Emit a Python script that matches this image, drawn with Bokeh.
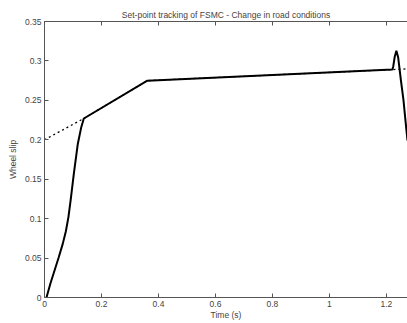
from bokeh.plotting import figure
from bokeh.models import LinearAxis, Range1d, FixedTicker
from bokeh.embed import file_html
from bokeh.resources import INLINE

# Data
t_slip = [0.007, 0.021, 0.050, 0.064, 0.075, 0.084, 0.092, 0.103, 0.117, 0.129, 0.138,
          0.361, 1.221, 1.224, 1.229, 1.235, 1.241, 1.251, 1.260, 1.267, 1.274]
slip = [0.000, 0.018, 0.051, 0.068, 0.084, 0.102, 0.124, 0.157, 0.195, 0.216, 0.227,
        0.275, 0.289, 0.293, 0.305, 0.313, 0.305, 0.275, 0.250, 0.224, 0.199]

t_ref = [0.0, 0.138, 0.361, 1.221, 1.274]
slip_ref = [0.200, 0.227, 0.275, 0.289, 0.290]

x_ticks = [0, 0.2, 0.4, 0.6, 0.8, 1.0, 1.2]
y_ticks = [0, 0.05, 0.1, 0.15, 0.2, 0.25, 0.3, 0.35]
x_labels = {0: "0", 0.2: "0.2", 0.4: "0.4", 0.6: "0.6", 0.8: "0.8", 1.0: "1", 1.2: "1.2"}
y_labels = {0: "0", 0.05: "0.05", 0.1: "0.1", 0.15: "0.15", 0.2: "0.2",
            0.25: "0.25", 0.3: "0.3", 0.35: "0.35"}

title_text = "Set-point tracking of FSMC - Change in road conditions"
FONT = "Liberation Sans"
TXT = "#444444"
AX = "#555555"

p = figure(width=407, height=323, output_backend="svg", toolbar_location=None,
           x_range=Range1d(0, 1.274), y_range=Range1d(0, 0.35),
           min_border_left=44, min_border_right=0, min_border_top=21,
           min_border_bottom=26, title=title_text)
p.background_fill_color = "white"
p.border_fill_color = "white"
p.outline_line_color = None
p.grid.visible = False

p.title.align = "center"
p.title.text_font = FONT
p.title.text_font_size = "8.5px"
p.title.text_font_style = "normal"
p.title.text_color = TXT
p.title.standoff = 4
p.title.offset = 0

p.line(t_ref, slip_ref, line_color="black", line_width=1.3, line_dash="2 3")
p.line(t_slip, slip, line_color="black", line_width=2.0)

for ax, ticks, labels in ((p.xaxis[0], x_ticks, x_labels), (p.yaxis[0], y_ticks, y_labels)):
    ax.ticker = FixedTicker(ticks=ticks)
    ax.major_label_overrides = labels
    ax.major_tick_in = 4
    ax.major_tick_out = 0
    ax.minor_tick_line_color = None
    ax.axis_line_color = AX
    ax.major_tick_line_color = AX
    ax.major_label_text_font = FONT
    ax.major_label_text_font_size = "8.5px"
    ax.major_label_text_color = TXT
    ax.axis_label_text_font = FONT
    ax.axis_label_text_font_size = "8.5px"
    ax.axis_label_text_color = TXT
    ax.axis_label_text_font_style = "normal"

p.xaxis[0].axis_label = "Time (s)"
p.yaxis[0].axis_label = "Wheel slip"
p.xaxis[0].major_label_standoff = 3
p.xaxis[0].axis_label_standoff = 0
p.yaxis[0].major_label_standoff = 3
p.yaxis[0].axis_label_standoff = 4

top = LinearAxis(ticker=FixedTicker(ticks=x_ticks), major_tick_in=4, major_tick_out=0,
                 minor_tick_line_color=None, axis_line_color=AX,
                 major_tick_line_color=AX, major_label_text_color=None,
                 major_label_standoff=0)
p.add_layout(top, "above")

open("out.html", "w").write(file_html(p, INLINE))
